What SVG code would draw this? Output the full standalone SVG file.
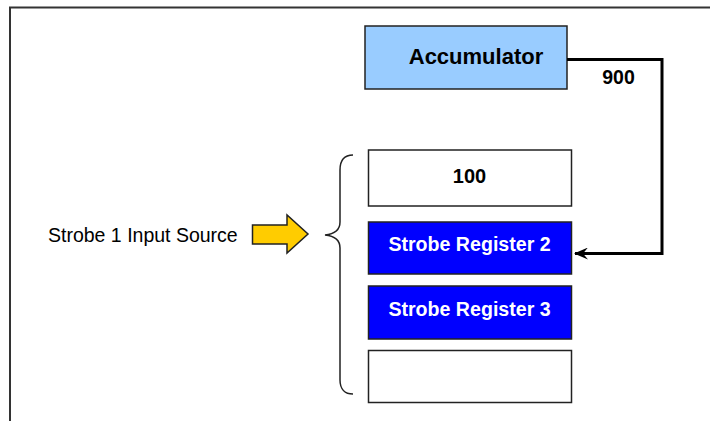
<svg xmlns="http://www.w3.org/2000/svg" width="710" height="421" viewBox="0 0 710 421">
<defs>
<style>
.box{stroke:#222;stroke-width:1.5}
.bt{font-family:"Liberation Sans",Arial,sans-serif;font-weight:bold;text-anchor:middle}
</style>
<marker id="ah" markerWidth="14" markerHeight="12" refX="13" refY="6" orient="auto" markerUnits="userSpaceOnUse">
<path d="M0,0 L14,6 L0,12 L5,6 Z" fill="#000"/>
</marker>
</defs>
<rect width="710" height="421" fill="#fff"/>
<path d="M10,421 V7.5 H710" fill="none" stroke="#333" stroke-width="2"/>
<g id="accumulator">
<rect class="box" x="365" y="26" width="202" height="63" fill="#99ccff"/>
<text class="bt" x="476" y="64" font-size="22" fill="#000">Accumulator</text>
</g>
<g id="reg100">
<rect class="box" x="368.5" y="150" width="203" height="56" fill="#fff"/>
<text class="bt" x="469.5" y="182.5" font-size="20" fill="#000">100</text>
</g>
<g id="strobe2">
<rect class="box" x="368.5" y="222" width="203" height="52" fill="#0000ff"/>
<text class="bt" x="469.5" y="251" font-size="19.6" fill="#fff">Strobe Register 2</text>
</g>
<g id="strobe3">
<rect class="box" x="368.5" y="286" width="203" height="53" fill="#0000ff"/>
<text class="bt" x="469.5" y="315.5" font-size="19.6" fill="#fff">Strobe Register 3</text>
</g>
<g id="regEmpty">
<rect class="box" x="368.5" y="350.5" width="203" height="52" fill="#fff"/>
</g>
<g id="source">
<text x="48" y="242" font-family="'Liberation Sans',Arial,sans-serif" font-size="19.5" fill="#000">Strobe 1 Input Source</text>
<path d="M252.5,225 H287 V215 L308,234 L287,253 V244 H252.5 Z" fill="#ffcc00" stroke="#222" stroke-width="1.5" stroke-linejoin="miter"/>
</g>
<g id="brace">
<path d="M353,155 C345,155 340,160 340,170 V222 C340,230 335,234 325,235 C335,236 340,240 340,248 V380 C340,389 345,394 353,394" fill="none" stroke="#222" stroke-width="1.5"/>
</g>
<g id="connectors">
<path d="M567,59.5 H662 V253.5 H575" fill="none" stroke="#000" stroke-width="3" marker-end="url(#ah)"/>
<text class="bt" x="618.5" y="83.5" font-size="19.5" fill="#000">900</text>
</g>
</svg>
